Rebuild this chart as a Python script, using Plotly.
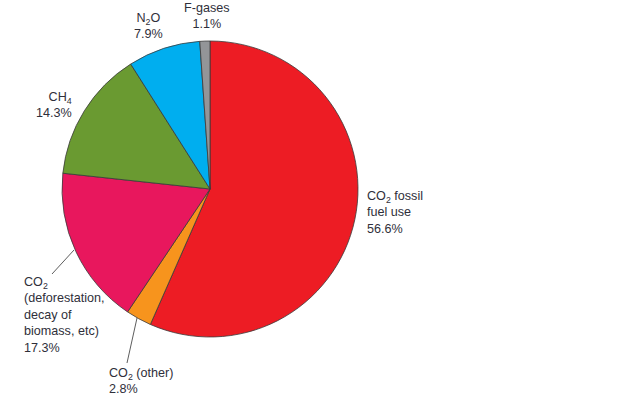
import plotly.graph_objects as go

# ---- data ----
labels = ["CO2 fossil fuel use", "CO2 (other)", "CO2 (deforestation, decay of biomass, etc)",
          "CH4", "N2O", "F-gases"]
label_html = ["CO<sub>2</sub> fossil<br>fuel use", "CO<sub>2</sub> (other)",
              "CO<sub>2</sub><br>(deforestation,<br>decay of<br>biomass, etc)",
              "CH<sub>4</sub>", "N<sub>2</sub>O", "F-gases"]
values = [56.6, 2.8, 17.3, 14.3, 7.9, 1.1]
colors = ["#ED1C24", "#F7941D", "#E8175D", "#6A9A31", "#00AEEF", "#939598"]

W, H = 640, 400
cx, cy, r = 210, 189, 148


def fx(px):
    return px / W


def fy(py):
    return 1 - py / H


fig = go.Figure(go.Pie(
    labels=labels, values=values, sort=False, direction="clockwise", rotation=0,
    marker=dict(colors=colors, line=dict(color="#3a3a3a", width=0.8)),
    textinfo="none", hoverinfo="label+percent", showlegend=False,
    domain=dict(x=[(cx - r) / W, (cx + r) / W], y=[(H - cy - r) / H, (H - cy + r) / H]),
))

# label placement (pixel coords in the picture): x, y(center), xanchor, align
place = [
    (365, 212, "left", "left"),
    (107, 381, "left", "left"),
    (22, 315, "left", "left"),
    (74, 105, "right", "right"),
    (148, 26, "center", "center"),
    (207, 16, "center", "center"),
]
annotations = []
for txt, v, (px, py, xa, al) in zip(label_html, values, place):
    annotations.append(dict(
        text=f"{txt}<br>{v:.1f}%", x=fx(px), y=fy(py), xref="paper", yref="paper",
        xanchor=xa, yanchor="middle", align=al, showarrow=False,
        font=dict(family="Liberation Sans, Arial, sans-serif", size=12.6, color="#2f2f3a"),
    ))

leaders = [((74, 250), (52, 274)), ((137, 318), (127, 363))]
shapes = []
for (x0, y0), (x1, y1) in leaders:
    shapes.append(dict(type="line", xref="paper", yref="paper",
                       x0=fx(x0), y0=fy(y0), x1=fx(x1), y1=fy(y1),
                       line=dict(color="#333333", width=0.8)))

fig.update_layout(
    width=W, height=H, margin=dict(l=0, r=0, t=0, b=0),
    paper_bgcolor="white", plot_bgcolor="white",
    annotations=annotations, shapes=shapes,
)
fig.write_html("out.html", config={"displayModeBar": False},
               post_script="document.body.style.margin='0';")
